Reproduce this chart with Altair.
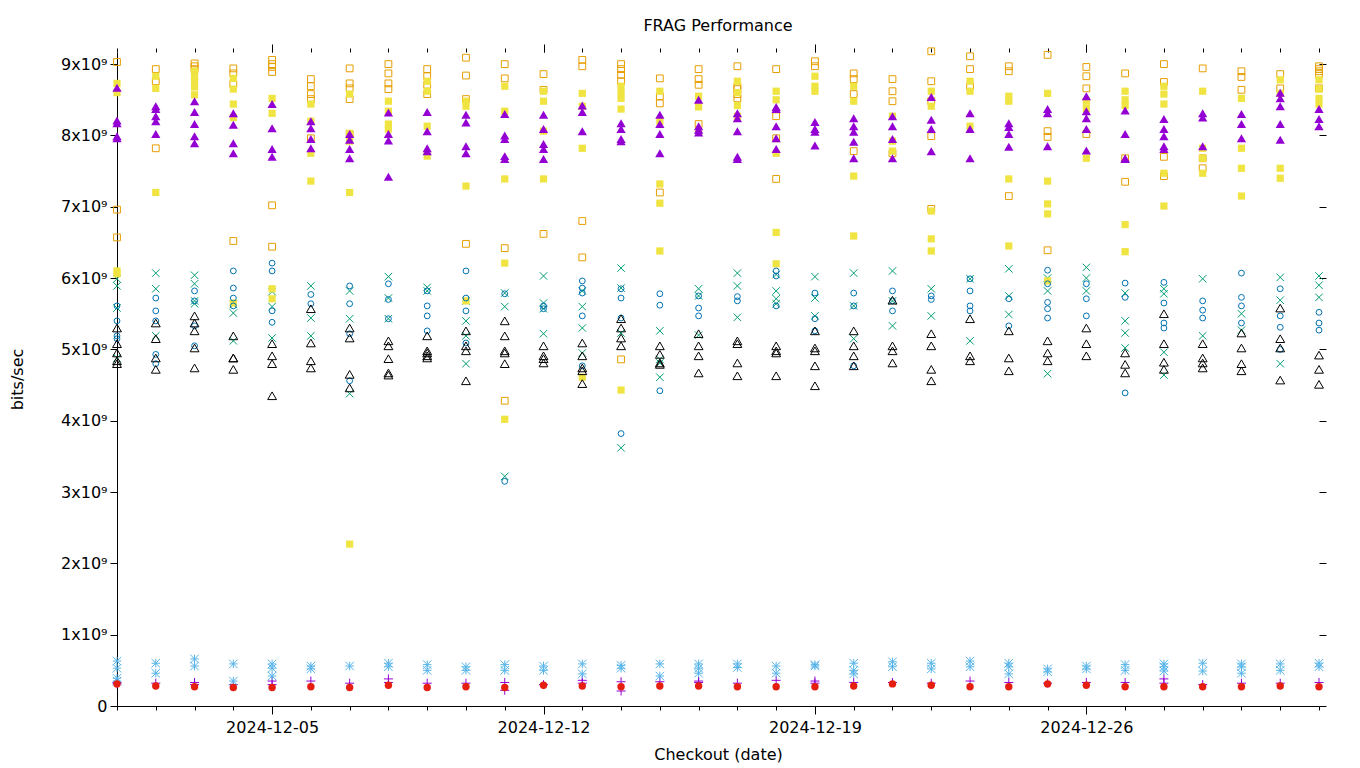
import altair as alt
import pandas as pd

FONT = "DejaVu Sans"
START = "2024-12-01"
N_DAYS = 32
MAJOR_DAYS = [5, 12, 19, 26]           # December dates with labels
Y_TICKS = [i * 1e9 for i in range(10)]

# values in units of 1e9 bits/sec, one list per day (2024-12-01 .. 2025-01-01)
PLUS = [[0.33,0.31],[0.32],[0.33,0.30],[0.30],[0.35,0.30],[0.35],[0.32],[0.38,0.33],[0.32],[0.32],
        [0.33,0.22],[0.30],[0.36,0.32],[0.34,0.21],[0.34],[0.35,0.33],[0.32],[0.36],[0.35,0.32],[0.33],
        [0.33],[0.32],[0.35],[0.33],[0.32],[0.33],[0.33],[0.38,0.32],[0.30],[0.32],[0.32],[0.33]]
XMARK = [[5.99,5.89,5.58,4.88],[6.07,5.85,5.19],[6.04,5.92,5.68,5.64],[5.63,5.51,5.12],[5.81,5.60,5.16],
         [5.89,5.44,5.19],[5.82,5.43,4.38],[6.02,5.72,5.43],[5.87,5.82],[5.68,5.40,5.19,4.80],
         [5.79,5.60,3.22],[6.03,5.65,5.57,5.22],[5.82,5.60,5.30,4.95],[6.14,5.86,5.23,3.62],[5.26,4.86,4.81,4.61],
         [5.85,5.75,5.20],[6.07,5.89,5.45],[6.05,5.82,5.71,5.64],[6.02,5.72,5.47],[6.07,5.61,5.15],
         [6.10,5.68,5.33],[5.85,5.47],[5.99,5.12],[6.13,5.75,5.49],[6.00,5.82,4.66],
         [6.15,6.00,5.82],[5.79,5.40,5.23,5.02],[5.85,5.78,4.96,4.64],[5.99,5.19],[5.50,5.27],
         [6.01,5.69,4.80],[6.03,5.90,5.73]]
STAR = [[0.63,0.53,0.39,0.35],[0.60,0.46],[0.66,0.56],[0.59,0.35],[0.59,0.53,0.42],[0.56,0.52],[0.56],
        [0.60,0.55],[0.58,0.50],[0.55,0.50],[0.58,0.50],[0.56,0.50],[0.59,0.45],[0.57,0.53],[0.59,0.42],
        [0.59,0.53,0.46],[0.59,0.54],[0.56,0.46],[0.58,0.56],[0.60,0.50,0.45],[0.62,0.55],[0.60,0.52],
        [0.63,0.55],[0.60,0.55,0.45],[0.52,0.48],[0.56,0.52],[0.58,0.50],[0.59,0.55,0.49],[0.60,0.49],
        [0.59,0.55,0.46],[0.59,0.50],[0.60,0.55]]
SQ_OPEN = [[9.03,6.96,6.57],[8.93,8.76,7.82],[9.01,8.97,8.93],[8.94,8.87,8.72,6.52],[9.06,9.00,8.96,8.89,7.02,6.44],
           [8.79,8.69,8.58,8.51,7.96],[8.94,8.73,8.66,8.51,8.02],[9.00,8.87,8.73,8.65],[8.93,8.83,8.71,8.58],
           [9.09,8.84,8.51,6.48],[9.00,8.80,6.42,4.28],[8.86,8.64,6.62],[9.06,8.97,6.80,6.29],
           [9.00,8.93,8.85,8.76,4.86],[8.80,8.55,8.45,7.20],[8.93,8.79,8.71,8.16],[8.97,8.69,8.65,8.58,8.52],
           [8.93,8.27,7.96,7.39],[9.04,8.97],[8.87,8.79,8.58,7.78],[8.79,8.62,8.48,7.75],
           [9.18,8.76,8.48,7.99,6.97],[9.11,8.93,8.69],[8.97,8.90,7.15],[9.13,8.06,7.98,6.39],
           [8.96,8.83,8.66,8.02],[8.87,7.68,7.35],[9.00,8.75,7.70,7.43],[8.94,7.68,7.54],[8.90,8.82,8.64],
           [8.86,8.66],[8.97,8.93,8.90,8.86,8.66]]
SQ_FILLED = [[8.73,8.60,6.10,6.06],[8.83,8.66,7.20],[8.90,8.83,8.76,8.68,8.57],[8.80,8.65,8.44,8.25,5.65],
             [8.52,8.31,5.85,5.71],[8.44,8.20,7.75,7.36],[8.58,8.03,7.92,7.20,2.27],[8.48,8.34,8.16,8.09],
             [8.76,8.62,8.13,7.71],[8.48,8.41,7.29,5.68],[8.69,8.34,7.39,6.21,4.02],[8.62,8.48,8.06,7.39],
             [8.59,8.41,7.82,4.61],[8.69,8.60,8.52,8.37,4.43],[8.62,8.20,7.32,7.05,6.38],[8.55,8.40,8.06],
             [8.76,8.60,8.42,8.27],[8.62,8.50,7.75,6.64,6.20],[8.83,8.69,8.62],[8.69,8.48,7.43,6.59],
             [8.27,7.92,7.78],[8.62,8.41,6.94,6.55,6.38],[8.76,8.62,8.13],[8.55,8.48,7.39,6.45],
             [8.59,7.36,7.04,6.90,5.96],[8.48,8.38,7.68],[8.62,8.50,8.42,6.75,6.37],[8.69,8.58,8.44,7.47,7.01],
             [8.62,7.82,7.68,7.47],[8.52,7.82,7.54,7.15],[8.78,8.59,7.54,7.40],[8.78,8.65,8.52,8.44]]
CIRC_OPEN = [[5.61,5.40,5.19,5.15],[5.72,5.54,5.40,4.93,4.80],[5.82,5.68,5.33,5.05],[6.10,5.86,5.72,5.61],
             [6.21,6.10,5.54,5.38],[5.77,5.64],[5.89,5.64,5.22,4.56],[5.92,5.70,5.43],[5.82,5.61,5.47,5.26],
             [6.10,5.72,5.54,5.09],[5.78,3.15],[5.61,5.57],[5.96,5.86,5.79,5.47,4.77],[5.85,5.72,5.44,3.82],
             [5.78,5.62,4.42],[5.75,5.58,5.47],[5.74,5.68],[6.10,6.03,5.61],[5.79,5.43,5.26],[5.79,5.61,4.77],
             [5.82,5.68,5.54],[5.75,5.70],[5.99,5.82,5.61,5.54],[5.71,5.33],[6.11,5.92,5.66,5.57,5.44],
             [5.92,5.71,5.47],[5.93,5.73,4.39],[5.94,5.65,5.37,5.30],[5.68,5.55,5.44],[6.07,5.73,5.61,5.37],
             [5.85,5.47,5.31,5.00],[5.52,5.37,5.27]]
CIRC_FILLED = [[0.31],[0.28],[0.27],[0.26],[0.26],[0.27],[0.26],[0.29],[0.26],[0.27],[0.26],[0.29],[0.28],
               [0.27],[0.28],[0.28],[0.27],[0.27],[0.27],[0.28],[0.31],[0.29],[0.27],[0.27],[0.31],[0.29],
               [0.27],[0.27],[0.27],[0.27],[0.28],[0.27]]
TRI_OPEN = [[5.30,5.08,4.95,4.84,4.80],[5.37,5.15,4.88,4.72],[5.47,5.37,5.26,5.02,4.74],[5.19,4.88,4.88,4.72],
            [5.08,4.91,4.80,4.35],[5.57,5.09,4.84,4.74],[5.30,5.16,4.65,4.46],[5.12,5.05,4.87,4.67,4.64],
            [5.19,4.98,4.95,4.91,4.88],[5.26,5.05,4.98,4.56],[5.40,5.19,4.98,4.95,4.80],[5.05,4.91,4.87,4.81],
            [5.09,4.91,4.74,4.70,4.52],[5.43,5.30,5.16,5.05],[5.05,4.93,4.81,4.79],[5.22,5.05,4.91,4.67],
            [5.12,5.08,4.81,4.63],[5.05,4.98,4.95,4.63],[5.26,5.02,4.98,4.77,4.49],[5.26,5.05,4.91,4.77],
            [5.69,5.05,4.98,4.81],[5.22,5.05,4.72,4.56],[5.43,4.91,4.84],[5.26,4.88,4.70],[5.12,4.95,4.84],
            [5.30,5.08,4.91],[4.95,4.79,4.67],[5.50,5.08,4.82,4.72],[5.08,4.88,4.81,4.74],[5.23,5.02,4.80,4.70],
            [5.58,5.15,5.02,4.57],[4.92,4.72,4.51]]
TRI_FILLED = [[8.67,8.21,8.17,7.99,7.96],[8.41,8.37,8.27,8.20,8.02],[8.48,8.33,8.16,7.99,7.89],[8.31,8.15,7.89,7.75],
              [8.44,8.10,7.81,7.70],[8.20,8.10,7.95,7.82],[8.02,7.94,7.81,7.68],[8.32,8.02,7.93,7.42],
              [8.33,8.06,7.82,7.78],[8.29,8.18,7.85,7.75],[8.30,8.00,7.95,7.71,7.67],[8.29,8.09,7.88,7.81,7.67],
              [8.42,8.33,8.06],[8.17,8.09,7.95,7.92],[8.29,8.16,8.02,7.75],[8.50,8.13,8.08,8.04],
              [8.31,8.24,8.06,7.70,7.67],[8.40,8.37,8.13,7.96,7.81],[8.19,8.09,8.05,7.86],[8.24,8.13,8.05,7.91,7.68],
              [8.27,8.13,7.95,7.68],[8.54,8.22,8.09,7.78],[8.31,8.09,7.68],[8.17,8.12,8.02,7.84],
              [8.37,8.31,7.85],[8.55,8.34,8.24,8.09,7.79],[8.35,8.02,7.68,7.67],[8.23,8.09,7.99,7.85,7.81],
              [8.31,8.25,7.85],[8.30,8.16,7.96],[8.60,8.52,8.41,8.16,7.94],[8.37,8.23,8.13]]

P_PLUS = "M-1,0L1,0M0,-1L0,1"
P_X = "M-1,-1L1,1M-1,1L1,-1"
P_STAR = "M-1,0L1,0M0,-1L0,1M-1,-1L1,1M-1,1L1,-1"

# name, values, colour, shape, filled, size
SERIES = [
    ("s1", PLUS, "#9400d3", P_PLUS, False, 81),
    ("s2", XMARK, "#009e73", P_X, False, 56),
    ("s3", STAR, "#56b4e9", P_STAR, False, 72),
    ("s4", SQ_OPEN, "#e69f00", "square", False, 46),
    ("s5", SQ_FILLED, "#f0e442", "square", True, 52),
    ("s6", CIRC_OPEN, "#0072b2", "circle", False, 34),
    ("s7", CIRC_FILLED, "#e51e10", "circle", True, 55),
    ("s8", TRI_OPEN, "#000000", "triangle-up", False, 78),
    ("s9", TRI_FILLED, "#9400d3", "triangle-up", True, 85),
]

dates = [(pd.Timestamp(START) + pd.Timedelta(days=i)).strftime("%Y-%m-%d") for i in range(N_DAYS)]
rows = []
for name, vals, *_ in SERIES:
    for i, day in enumerate(vals):
        for v in day:
            rows.append({"date": dates[i], "v": v * 1e9, "series": name})
df = pd.DataFrame(rows)

W, H = 1202, 654
XDOM = [alt.DateTime(year=2024, month=12, date=1, utc=True),
        alt.DateTime(year=2025, month=1, date=1, utc=True)]
YDOM = [0, 9.17e9]
MAJOR = [alt.DateTime(year=2024, month=12, date=d, utc=True) for d in MAJOR_DAYS]
ALLDAYS = [alt.DateTime(year=2024, month=12, date=d, utc=True) for d in range(1, 32)] + \
          [alt.DateTime(year=2025, month=1, date=1, utc=True)]


def X(axis):
    return alt.X("date:T", scale=alt.Scale(type="utc", domain=XDOM), axis=axis)


def Y(axis):
    return alt.Y("v:Q", scale=alt.Scale(domain=YDOM, nice=False, zero=True), axis=axis)


layers = []
for name, vals, color, shape, filled, size in SERIES:
    layers.append(
        alt.Chart(df).transform_filter(alt.datum.series == name)
        .mark_point(shape=shape, filled=filled, size=size, color=color, strokeWidth=1, opacity=1)
        .encode(x=X(None), y=Y(None))
    )

tick_common = dict(tickColor="black", tickWidth=1, grid=False)
ax_df_x = pd.DataFrame({"date": dates, "v": [0.0] * N_DAYS})
ax_df_y = pd.DataFrame({"date": [dates[0]] * len(Y_TICKS), "v": Y_TICKS})

bottom_major = alt.Axis(orient="bottom", values=MAJOR, format="%Y-%m-%d", tickSize=8, domain=True,
                        domainColor="black", domainWidth=1, labelFont=FONT, labelFontSize=16,
                        labelColor="black", labelPadding=5, labelFlush=False,
                        title="Checkout (date)", titleFont=FONT, titleFontSize=16, titleFontWeight="normal",
                        titleColor="black", titleX=W / 2, titleY=48, titleBaseline="middle", **tick_common)
bottom_minor = alt.Axis(orient="bottom", values=ALLDAYS, tickSize=4, domain=False, labels=False,
                        title="", **tick_common)
top_major = alt.Axis(orient="top", values=MAJOR, tickSize=8, domain=False, labels=False, title="", **tick_common)
top_minor = alt.Axis(orient="top", values=ALLDAYS, tickSize=4, domain=False, labels=False, title="", **tick_common)
left_axis = alt.Axis(orient="left", values=Y_TICKS, tickSize=7, domain=True, domainColor="black", domainWidth=1,
                     labelFont=FONT, labelFontSize=16, labelColor="black", labelPadding=3,
                     labelExpr="datum.value == 0 ? '0' : format(datum.value / 1e9, 'd') + 'x10\u2079'",
                     title="bits/sec", titleFont=FONT, titleFontSize=16, titleFontWeight="normal",
                     titleColor="black", titleX=-100, titleY=H / 2, titleAngle=270, titleBaseline="middle",
                     titleAlign="center", **tick_common)
right_axis = alt.Axis(orient="right", values=Y_TICKS, tickSize=7, domain=False, labels=False, title="",
                      **tick_common)

for xa in [bottom_major, bottom_minor, top_major, top_minor]:
    layers.append(alt.Chart(ax_df_x).mark_point(opacity=0).encode(x=X(xa), y=Y(None)))
for ya in [left_axis, right_axis]:
    layers.append(alt.Chart(ax_df_y).mark_point(opacity=0).encode(x=X(None), y=Y(ya)))

chart = (
    alt.layer(*layers)
    .resolve_axis(x="independent", y="independent")
    .properties(
        width=W, height=H,
        title=alt.TitleParams("FRAG Performance", font=FONT, fontSize=16, fontWeight="normal",
                              color="black", anchor="middle", offset=10),
        padding={"left": 109, "top": 44, "right": 25, "bottom": 62},
        autosize=alt.AutoSizeParams(type="none"),
        view=alt.ViewBackground(stroke="transparent", strokeWidth=0),
    )
    .configure_view(stroke="transparent", strokeWidth=0)
    .configure(background="white")
)

chart.save("out.html", embed_options={"renderer": "svg", "actions": False})
